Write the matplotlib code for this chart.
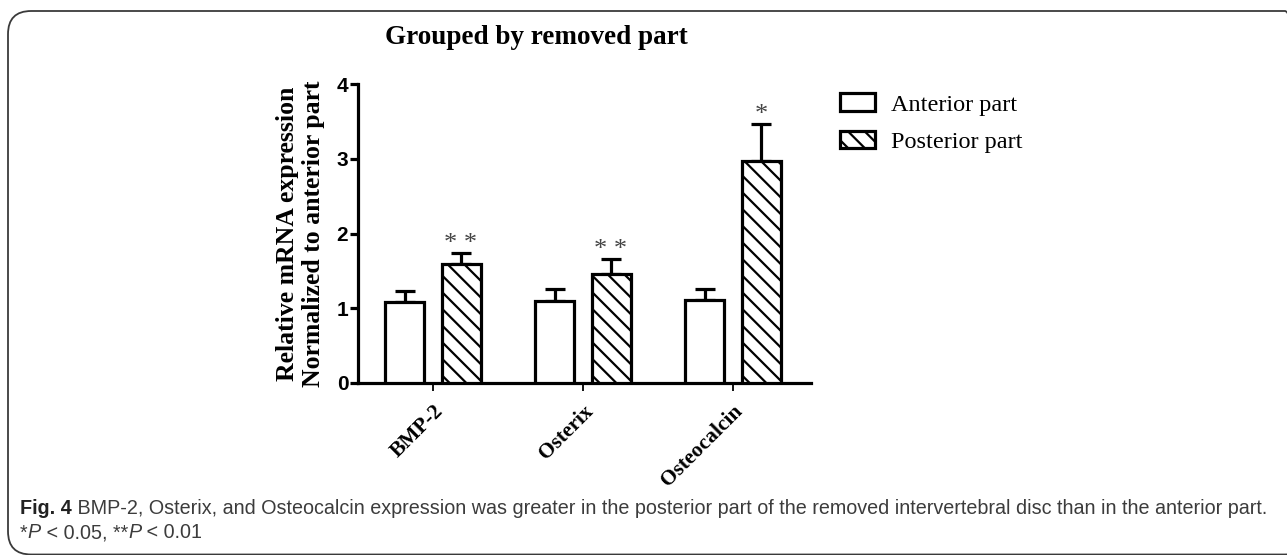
import numpy as np
import matplotlib
matplotlib.use("Agg")
import matplotlib.pyplot as plt
from matplotlib.patches import Patch, FancyBboxPatch

# data
genes = ["BMP-2", "Osterix", "Osteocalcin"]
anterior = [1.08, 1.10, 1.11]
anterior_err = [0.15, 0.16, 0.15]
posterior = [1.59, 1.46, 2.97]
posterior_err = [0.15, 0.20, 0.49]
stars = ["* *", "* *", "*"]

serif = "Liberation Serif"
sans = "Liberation Sans"

plt.rcParams["hatch.linewidth"] = 1.6

fig = plt.figure(figsize=(12.87, 5.55), dpi=100)
W, H = 1287, 555

# rounded frame around the panel
frame = FancyBboxPatch((8 / W, 0.5 / H), 1300 / W, (555 - 11 - 0.5) / H,
                       boxstyle="round,pad=0,rounding_size=0.018",
                       transform=fig.transFigure, fill=False,
                       edgecolor="#3a3a3a", linewidth=1.3, mutation_aspect=W / H)
fig.patches.append(frame)

ax = fig.add_axes([358 / W, 1 - 383 / H, (811 - 358) / W, (383 - 84) / H])

x = np.arange(len(genes))
off, bw = 0.187, 0.26
lw = 2.3

ax.bar(x - off, anterior, bw, color="white", edgecolor="black", linewidth=lw, zorder=3)
ax.bar(x + off, posterior, bw, color="white", edgecolor="black", linewidth=lw,
       hatch="\\\\", zorder=3)
ax.errorbar(x - off, anterior, yerr=[np.zeros(3), anterior_err], fmt="none",
            ecolor="black", elinewidth=lw, capsize=7.5, capthick=lw, zorder=2)
ax.errorbar(x + off, posterior, yerr=[np.zeros(3), posterior_err], fmt="none",
            ecolor="black", elinewidth=lw, capsize=7.5, capthick=lw, zorder=2)

for i, s in enumerate(stars):
    ax.text(x[i] + off, posterior[i] + posterior_err[i] + 0.12, s, ha="center",
            va="center", fontsize=19, family=serif, color="#444444")

ax.set_xlim(-0.5, 2.52)
ax.set_ylim(0, 4)
ax.set_yticks([0, 1, 2, 3, 4])
ax.set_yticklabels(["0", "1", "2", "3", "4"], family=sans, fontweight="bold", fontsize=15)
ax.set_xticks(x)
ax.set_xticklabels(genes, rotation=45, ha="right", rotation_mode="anchor",
                   family=serif, fontweight="bold", fontsize=15.5)
ax.tick_params(axis="y", length=6, width=lw, pad=1)
ax.tick_params(axis="x", length=6, width=1.3, pad=7)
for side in ["top", "right"]:
    ax.spines[side].set_visible(False)
for side in ["left", "bottom"]:
    ax.spines[side].set_linewidth(lw)
ax.set_ylabel("Relative mRNA expression\nNormalized to anterior part",
              family=serif, fontweight="bold", fontsize=18.5, labelpad=8)

fig.text(536 / W, 1 - 37 / H, "Grouped by removed part", ha="center", va="center",
         family=serif, fontweight="bold", fontsize=19.5)

handles = [Patch(facecolor="white", edgecolor="black", linewidth=lw),
           Patch(facecolor="white", edgecolor="black", linewidth=lw, hatch="\\\\")]
fig.legend(handles, ["Anterior part", "Posterior part"], loc="upper left",
           bbox_to_anchor=(828 / W, 1 - 81 / H), frameon=False, borderpad=0,
           handlelength=1.45, handleheight=0.75, handletextpad=0.65, labelspacing=0.62,
           prop={"family": serif, "size": 17.5})

# caption
cap_font = sans
cap_col = "#3c3c3c"
cap_size = 14.2
t1 = fig.text(20 / W, 1 - 508 / H, "Fig. 4", ha="left", va="center",
              family=cap_font, fontweight="bold", fontsize=cap_size, color="#222222")
ax.annotate(" BMP-2, Osterix, and Osteocalcin expression was greater in the posterior "
            "part of the removed intervertebral disc than in the anterior part.",
            xy=(1, 0), xycoords=t1, ha="left", va="bottom",
            family=cap_font, fontsize=cap_size, color=cap_col, annotation_clip=False)

pieces = [("P", "italic"), (" < 0.05, **", "normal"),
          ("P", "italic"), (" < 0.01", "normal")]
prev = fig.text(20 / W, 1 - 533 / H, "*", ha="left", va="center",
                family=cap_font, fontsize=cap_size, color=cap_col)
for txt, style in pieces:
    prev = ax.annotate(txt, xy=(1, 0), xycoords=prev, ha="left", va="bottom",
                       family=cap_font, fontsize=cap_size, style=style, color=cap_col,
                       annotation_clip=False)

fig.savefig("out.png", dpi=100)
